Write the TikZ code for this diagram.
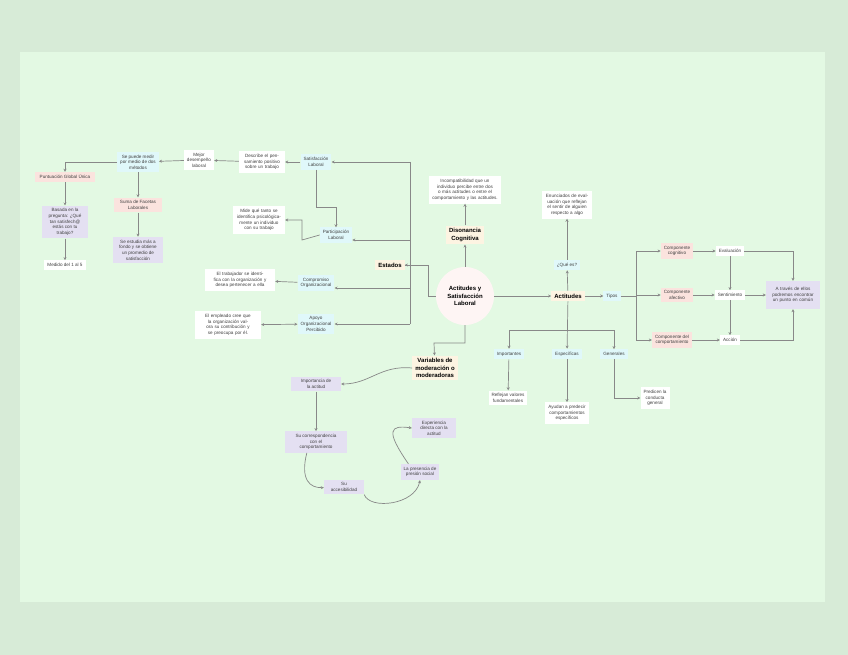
\documentclass[tikz,border=0pt]{standalone}
\usepackage{fontspec}
\setmainfont{Liberation Sans}
\usetikzlibrary{arrows.meta}
\definecolor{bgo}{HTML}{D7EBD7}
\definecolor{bgi}{HTML}{E3F9E3}
\definecolor{cy}{HTML}{E0F8FA}
\definecolor{pk}{HTML}{FBE3DE}
\definecolor{pu}{HTML}{E4E0F2}
\definecolor{pe}{HTML}{FDF4E2}
\definecolor{ln}{HTML}{888888}
\tikzset{
 bx/.style={inner sep=3pt,align=center,font=\fontsize{4.6}{5.6}\selectfont,text=black!75},
 cyb/.style={bx,fill=cy},
 pkb/.style={bx,fill=pk},
 pub/.style={bx,fill=pu},
 wb/.style={bx,fill=white},
 peb/.style={bx,fill=pe,font=\bfseries\fontsize{6}{7.2}\selectfont,text=black},
 ar/.style={draw=ln,line width=0.7pt,-{Stealth[length=3pt,width=3pt]}},
 pl/.style={draw=ln,line width=0.7pt}
}
\begin{document}
\begin{tikzpicture}[x=1pt,y=-1pt]
\fill[bgo] (0,0) rectangle (848,655);
\fill[bgi] (20,52) rectangle (825,602);
\useasboundingbox (0,0) rectangle (848,655);
% center
\node[circle,fill=pk!90!red!20,minimum size=58pt,bx,font=\bfseries\fontsize{6}{7.2}\selectfont,text=black] (m) at (465,296) {Actitudes y\\Satisfacción\\Laboral};
\node[peb] (dis) at (465,235) {Disonancia\\Cognitiva};
\node[wb,text width=66pt] (inc) at (465,190) {Incompatibilidad que un individuo percibe entre dos o más actitudes o entre el comportamiento y las actitudes.};
\node[peb] (act) at (568,296) {Actitudes};
\node[cyb] (que) at (567,265) {¿Qué es?};
\node[wb,text width=44pt] (enu) at (567,205) {Enunciados de evaluación que reflejan el sentir de alguien respecto a algo};
\node[cyb] (tip) at (612,296) {Tipos};
\node[pkb] (cc) at (677,251) {Componente\\cognitivo};
\node[pkb] (ca) at (677,295) {Componente\\afectivo};
\node[pkb] (cb) at (672,340) {Componente del\\comportamiento};
\node[wb] (ev) at (730,251) {Evaluación};
\node[wb] (se) at (730,295) {Sentimiento};
\node[wb] (ac) at (730,340) {Acción};
\node[pub,text width=48pt,minimum height=28pt] (atr) at (793,295) {A través de ellos podremos encontrar un punto en común};
\node[cyb] (imp) at (509,354) {Importantes};
\node[cyb] (esp) at (567,354) {Específicas};
\node[cyb] (gen) at (614,354) {Generales};
\node[wb] (ref) at (508,398) {Reflejan valores\\fundamentales};
\node[wb] (ayu) at (567,413) {Ayudan a predecir\\comportamientos\\específicos};
\node[wb] (pre) at (655,398) {Predicen la\\conducta\\general};
\node[peb] (var) at (435,368) {Variables de\\moderación o\\moderadoras};
\node[pub,minimum width=50pt] (ia) at (316,384) {Importancia de\\la actitud};
\node[pub,minimum width=62pt] (sc) at (316,442) {Su correspondencia\\con el\\comportamiento};
\node[pub,minimum width=40pt] (sa) at (344,487) {Su\\accesibilidad};
\node[pub] (lp) at (420,472) {La presencia de\\presión social};
\node[pub,minimum width=44pt] (ed) at (434,428) {Experiencia\\directa con la\\actitud};
\node[peb] (est) at (390,265) {Estados};
\node[cyb] (sl) at (316,162) {Satisfacción\\Laboral};
\node[cyb] (pl) at (336,235) {Participación\\Laboral};
\node[cyb] (co) at (316,283) {Compromiso\\Organizacional};
\node[cyb] (ap) at (316,324) {Apoyo\\Organizacional\\Percibido};
\node[wb,text width=40pt] (des) at (262,162) {Describe el pensamiento positivo sobre un trabajo};
\node[wb] (mej) at (199,160) {Mejor\\desempeño\\laboral};
\node[cyb] (spm) at (138,162) {Se puede medir\\por medio de dos\\métodos};
\node[pkb,minimum width=60pt] (pgu) at (65,177) {Puntuación Global Única};
\node[pkb,minimum width=48pt] (sfl) at (138,205) {Suma de Facetas\\Laborales};
\node[pub,minimum width=46pt] (bas) at (65,222) {Basada en la\\pregunta: ¿Qué\\tan satisfech@\\estás con tu\\trabajo?};
\node[wb] (med) at (65,265) {Medido del 1 al 5};
\node[pub,minimum width=50pt] (sem) at (138,250) {Se estudia más a\\fondo y se obtiene\\un promedio de\\satisfacción};
\node[wb,text width=46pt] (mid) at (259,220) {Mide qué tanto se identifica psicológicamente un individuo con su trabajo};
\node[wb,text width=64pt] (elt) at (240,280) {El trabajador se identifica con la organización y desea pertenecer a ella};
\node[wb,text width=60pt] (ele) at (228,325) {El empleado cree que la organización valora su contribución y se preocupa por él.};
% edges center
\draw[ar] (m) -- (dis);
\draw[ar] (dis) -- (inc);
\draw[ar] (m) -- (act);
\draw[ar] (m.west) -| (428,265) -- (est);
\draw[ar] (m.south) |- (434,343) -- (var);
\draw[ar] (act) -- (que);
\draw[ar] (que) -- (enu);
\draw[ar] (act) -- (tip);
\draw[pl] (tip) -- (636,296);
\draw[ar] (636,296) |- (cc);
\draw[ar] (636,296) |- (ca);
\draw[ar] (636,296) |- (cb);
\draw[ar] (cc) -- (ev);
\draw[ar] (ca) -- (se);
\draw[ar] (cb) -- (ac);
\draw[ar] (ev) -- (se);
\draw[ar] (se) -- (ac);
\draw[ar] (ev) -| (atr.north);
\draw[ar] (se) -- (se-|atr.west);
\draw[ar] (ac) -| (atr.south);
\draw[ar] (act) -- (esp);
\draw[ar] (567,330) -| (imp);
\draw[ar] (567,330) -| (gen);
\draw[ar] (imp) -- (ref);
\draw[ar] (esp) -- (ayu);
\draw[ar] (gen) |- (pre);
\draw[ar] (var.west) .. controls (380,365) and (370,384) .. (ia);
\draw[ar] (ia) -- (sc);
\draw[ar] (sc.south west) ++(22,0) .. controls (300,480) and (310,488) .. (sa);
\draw[ar] (sa.south east) .. controls (370,510) and (415,505) .. (lp.south);
\draw[ar] (lp.north west) ++(8,0) .. controls (385,430) and (390,425) .. (ed.west);
% estados
\draw[pl] (est) -- (410,265);
\draw[pl] (410,162) -- (410,324);
\draw[ar] (410,162) -- (sl);
\draw[ar] (410,240) -- (pl.east|-410,240);
\draw[ar] (410,288) -- (co.east|-410,288);
\draw[ar] (410,324) -- (ap);
\draw[ar] (sl) -- (des);
\draw[ar] (des) -- (mej);
\draw[ar] (mej) -- (spm);
\draw[ar] (spm) -| (pgu);
\draw[ar] (spm) -- (sfl);
\draw[ar] (sfl) -- (sem);
\draw[ar] (pgu) -- (bas);
\draw[ar] (bas) -- (med);
\draw[ar] (sl.south) -- (316,207) -| (pl.north);
\draw[ar] (pl.west) -- (302,240) |- (mid);
\draw[ar] (co) -- (elt);
\draw[ar,{Stealth[length=3pt,width=3pt]}-{Stealth[length=3pt,width=3pt]}] (ele) -- (ap);
\end{tikzpicture}
\end{document}
